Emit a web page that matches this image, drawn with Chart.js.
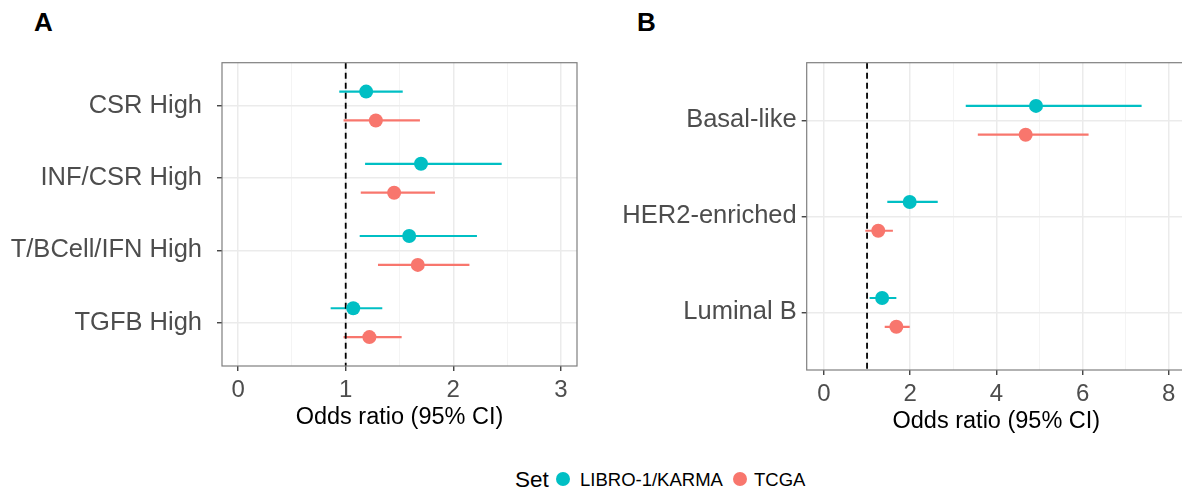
<!DOCTYPE html>
<html>
<head>
<meta charset="utf-8">
<script src="https://cdn.jsdelivr.net/npm/chart.js@4/dist/chart.umd.min.js"></script>
<style>
  html, body { margin:0; padding:0; background:#fff; }
  body { width:1182px; height:492px; overflow:hidden; position:relative; font-family:"Liberation Sans", Arial, sans-serif; }
  .wrap { position:absolute; top:0; width:600px; height:450px; }
  #wa { left:0; }
  #wb { left:600px; }
  .tag { position:absolute; font-weight:bold; font-size:26px; color:#000; line-height:1; }
  .lg { position:absolute; white-space:nowrap; line-height:1; color:#000; }
  .dot { position:absolute; width:14px; height:14px; border-radius:50%; }
</style>
</head>
<body>
<div class="tag" style="left:34px;top:9px;">A</div>
<div class="tag" style="left:637px;top:9px;">B</div>
<div class="wrap" id="wa"><canvas id="ca" width="600" height="450"></canvas></div>
<div class="wrap" id="wb"><canvas id="cb" width="600" height="450"></canvas></div>

<div class="lg" style="left:515px;top:469px;font-size:22.5px;">Set</div>
<div class="dot" style="left:556px;top:472px;background:#00BFC4;"></div>
<div class="lg" style="left:580px;top:471px;font-size:18.5px;">LIBRO-1/KARMA</div>
<div class="dot" style="left:733px;top:472px;background:#F8766D;"></div>
<div class="lg" style="left:754px;top:471px;font-size:18.5px;">TCGA</div>

<script>
// ---------------- data ----------------
const SERIES_NAMES = ['LIBRO-1/KARMA', 'TCGA'];
const SERIES_COLORS = ['#00BFC4', '#F8766D'];
const REF_LINE = 1;
const X_TITLE = 'Odds ratio (95% CI)';

// Panel A
const CATS_A = ['CSR High', 'INF/CSR High', 'T/BCell/IFN High', 'TGFB High'];
const LIBRO_A_OR = [1.19, 1.70, 1.59, 1.07];
const LIBRO_A_LO = [0.94, 1.18, 1.13, 0.86];
const LIBRO_A_HI = [1.53, 2.45, 2.22, 1.34];
const TCGA_A_OR  = [1.28, 1.45, 1.67, 1.22];
const TCGA_A_LO  = [0.98, 1.14, 1.30, 0.98];
const TCGA_A_HI  = [1.69, 1.83, 2.15, 1.52];
const X_TICKS_A = [0, 1, 2, 3];
const X_MINOR_A = [0.5, 1.5, 2.5];

// Panel B
const CATS_B = ['Basal-like', 'HER2-enriched', 'Luminal B'];
const LIBRO_B_OR = [4.92, 1.99, 1.35];
const LIBRO_B_LO = [3.29, 1.47, 1.06];
const LIBRO_B_HI = [7.37, 2.64, 1.68];
const TCGA_B_OR  = [4.68, 1.26, 1.68];
const TCGA_B_LO  = [3.57, 0.96, 1.41];
const TCGA_B_HI  = [6.14, 1.60, 1.99];
const X_TICKS_B = [0, 2, 4, 6, 8];
const X_MINOR_B = [1, 3, 5, 7];

// ---------------- drawing ----------------
const FONT = '"Liberation Sans", Arial, sans-serif';

const framePlugin = {
  id: 'frame',
  afterDatasetsDraw(chart) {
    const { ctx, chartArea: a } = chart;
    ctx.save();
    ctx.strokeStyle = '#7F7F7F';
    ctx.lineWidth = 1.2;
    ctx.strokeRect(a.left, a.top, a.right - a.left, a.bottom - a.top);
    ctx.restore();
  }
};

function makePanel(canvasId, cats, series, dodge, xTicks, xMinor, geom) {
  const W = 600, H = 450, axisH = 70;
  const xMin = xTicks[0], xMax = xTicks[xTicks.length - 1];
  const xPad = (xMax - xMin) * 0.05;
  const yMin = 0.4, yMax = cats.length + 0.6;
  const datasets = [];

  series.forEach((s, si) => {
    const off = si === 0 ? -dodge : dodge;
    s.lo.forEach((lo, i) => {
      datasets.push({
        type: 'scatter', showLine: true,
        data: [{ x: lo, y: i + 1 + off }, { x: s.hi[i], y: i + 1 + off }],
        borderColor: SERIES_COLORS[si], borderWidth: 2.2,
        pointRadius: 0, order: 2
      });
    });
  });
  datasets.push({
    type: 'scatter', showLine: true,
    data: [{ x: REF_LINE, y: yMin }, { x: REF_LINE, y: yMax }],
    borderColor: '#000', borderWidth: 1.8, borderDash: [6, 4],
    pointRadius: 0, order: 1
  });
  series.forEach((s, si) => {
    const off = si === 0 ? -dodge : dodge;
    datasets.push({
      type: 'scatter', label: SERIES_NAMES[si],
      data: s.or.map((v, i) => ({ x: v, y: i + 1 + off })),
      backgroundColor: SERIES_COLORS[si], borderColor: SERIES_COLORS[si],
      pointRadius: 7, pointBorderWidth: 0, order: 0
    });
  });

  const allX = xTicks.concat(xMinor).sort((a, b) => a - b);
  const isMajor = v => xTicks.includes(v);

  return new Chart(document.getElementById(canvasId), {
    type: 'scatter',
    data: { datasets },
    plugins: [framePlugin],
    options: {
      responsive: false, animation: false, maintainAspectRatio: false,
      layout: { padding: { top: geom.top, right: W - geom.right, left: 0, bottom: H - geom.bottom - axisH } },
      plugins: { legend: { display: false }, tooltip: { enabled: false } },
      scales: {
        x: {
          type: 'linear', position: 'bottom',
          min: xMin - xPad, max: xMax + xPad,
          afterBuildTicks: sc => { sc.ticks = allX.map(v => ({ value: v })); },
          afterFit: sc => { sc.height = axisH; },
          ticks: {
            autoSkip: false, maxRotation: 0, padding: 5,
            color: '#4D4D4D', font: { family: FONT, size: 24 },
            callback: v => isMajor(v) ? String(v) : ''
          },
          grid: {
            color: c => isMajor(c.tick.value) ? '#EBEBEB' : '#F4F4F4',
            lineWidth: c => isMajor(c.tick.value) ? 1.5 : 1,
            tickLength: 5,
            tickColor: c => isMajor(c.tick.value) ? '#333333' : 'rgba(0,0,0,0)',
            tickWidth: 1.3
          },
          border: { display: false },
          title: {
            display: true, text: X_TITLE, color: '#000',
            font: { family: FONT, size: 23.5 }, padding: { top: 4, bottom: 4 }
          }
        },
        y: {
          type: 'linear', reverse: true, min: yMin, max: yMax,
          afterBuildTicks: sc => { sc.ticks = cats.map((c, i) => ({ value: i + 1 })); },
          afterFit: sc => { sc.width = geom.left; },
          ticks: {
            autoSkip: false, padding: geom.labelPad,
            color: '#4D4D4D', font: { family: FONT, size: 25.5 },
            callback: v => cats[Math.round(v) - 1]
          },
          grid: {
            color: '#EBEBEB', lineWidth: 1.5,
            tickLength: 5, tickColor: '#333333', tickWidth: 1.3
          },
          border: { display: false }
        }
      }
    }
  });
}

makePanel('ca', CATS_A, [
  { or: LIBRO_A_OR, lo: LIBRO_A_LO, hi: LIBRO_A_HI },
  { or: TCGA_A_OR,  lo: TCGA_A_LO,  hi: TCGA_A_HI }
], 0.2, X_TICKS_A, X_MINOR_A, { left: 222, right: 577, top: 62.7, bottom: 366, labelPad: 15 });

makePanel('cb', CATS_B, [
  { or: LIBRO_B_OR, lo: LIBRO_B_LO, hi: LIBRO_B_HI },
  { or: TCGA_B_OR,  lo: TCGA_B_LO,  hi: TCGA_B_HI }
], 0.15, X_TICKS_B, X_MINOR_B, { left: 206.7, right: 586, top: 62.7, bottom: 370, labelPad: 5 });
</script>
</body>
</html>
